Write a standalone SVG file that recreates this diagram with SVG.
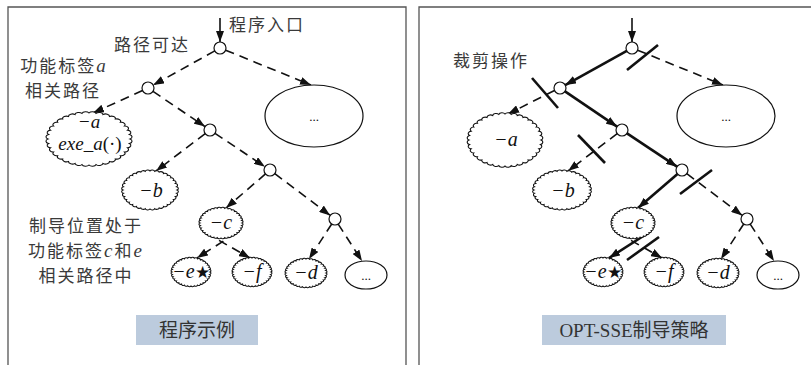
<svg xmlns="http://www.w3.org/2000/svg" xmlns:xlink="http://www.w3.org/1999/xlink" width="811" height="365" viewBox="0 0 811 365">
  <style>
    .frame{fill:none;stroke:#555;stroke-width:1.3}
    .lbl{font-family:"Noto Sans CJK SC","Liberation Serif",sans-serif;font-size:17px;letter-spacing:2px;fill:#3a3a3a}
    .it{font-family:"Liberation Serif",serif;font-style:italic;font-size:19px}
    .up{font-family:"Liberation Serif",serif;font-style:normal}
    .m{font-family:"Liberation Serif",serif;font-style:italic;font-size:20px;fill:#111;text-anchor:middle}
    .m2{font-size:19px}
    .dots{font-family:"Liberation Serif",serif;font-size:13px;fill:#111;text-anchor:middle}
    .cap{font-family:"Liberation Serif","Noto Sans CJK SC",serif;font-size:19px;fill:#333;text-anchor:middle}
    .capbox{fill:#bccbdd}
    .d{fill:none;stroke:#111;stroke-width:1.6;stroke-dasharray:9 6;marker-end:url(#ah)}
    .s{fill:none;stroke:#111;stroke-width:2.6;marker-end:url(#ah)}
    .in{fill:none;stroke:#111;stroke-width:1.6;marker-end:url(#ah)}
    .cut{stroke:#111;stroke-width:2.6;stroke-linecap:butt}
    .nd{fill:#fff;stroke:#111;stroke-width:1.2}
    .cl{fill:#fff;stroke:#111;stroke-width:1.1;vector-effect:non-scaling-stroke}
  </style>
  <defs>
    <marker id="ah" markerWidth="11" markerHeight="8" refX="11" refY="4" orient="auto" markerUnits="userSpaceOnUse">
      <path d="M0,0 L11,4 L0,8 Z" fill="#111"/>
    </marker>
    <!-- unit cloud outline: 36 small outward bumps round a unit circle -->
    <path id="cloud" class="cl" d="M1,0 A.095,.095 0 0 1 .9848,.1736 A.095,.095 0 0 1 .9397,.342 A.095,.095 0 0 1 .866,.5 A.095,.095 0 0 1 .766,.6428 A.095,.095 0 0 1 .6428,.766 A.095,.095 0 0 1 .5,.866 A.095,.095 0 0 1 .342,.9397 A.095,.095 0 0 1 .1736,.9848 A.095,.095 0 0 1 0,1 A.095,.095 0 0 1 -.1736,.9848 A.095,.095 0 0 1 -.342,.9397 A.095,.095 0 0 1 -.5,.866 A.095,.095 0 0 1 -.6428,.766 A.095,.095 0 0 1 -.766,.6428 A.095,.095 0 0 1 -.866,.5 A.095,.095 0 0 1 -.9397,.342 A.095,.095 0 0 1 -.9848,.1736 A.095,.095 0 0 1 -1,0 A.095,.095 0 0 1 -.9848,-.1736 A.095,.095 0 0 1 -.9397,-.342 A.095,.095 0 0 1 -.866,-.5 A.095,.095 0 0 1 -.766,-.6428 A.095,.095 0 0 1 -.6428,-.766 A.095,.095 0 0 1 -.5,-.866 A.095,.095 0 0 1 -.342,-.9397 A.095,.095 0 0 1 -.1736,-.9848 A.095,.095 0 0 1 0,-1 A.095,.095 0 0 1 .1736,-.9848 A.095,.095 0 0 1 .342,-.9397 A.095,.095 0 0 1 .5,-.866 A.095,.095 0 0 1 .6428,-.766 A.095,.095 0 0 1 .766,-.6428 A.095,.095 0 0 1 .866,-.5 A.095,.095 0 0 1 .9397,-.342 A.095,.095 0 0 1 .9848,-.1736 A.095,.095 0 0 1 1,0 Z"/>
  </defs>

  <rect width="811" height="365" fill="#fff"/>

  <!-- panel frames (open at the bottom) -->
  <g id="frames">
    <path class="frame" d="M8,366 V7 H406 V366"/>
    <path class="frame" d="M419,366 V7 H812"/>
  </g>

  <!-- free labels -->
  <g id="labels">
    <text class="lbl" x="229" y="31">程序入口</text>
    <text class="lbl" x="114" y="51">路径可达</text>
    <text class="lbl" x="64" y="72" text-anchor="middle">功能标签<tspan class="it">a</tspan></text>
    <text class="lbl" x="63" y="97" text-anchor="middle">相关路径</text>
    <text class="lbl" x="86" y="232" text-anchor="middle">制导位置处于</text>
    <text class="lbl" x="86" y="257" text-anchor="middle">功能标签<tspan class="it">c</tspan>和<tspan class="it">e</tspan></text>
    <text class="lbl" x="86" y="282" text-anchor="middle">相关路径中</text>
    <text class="lbl" x="453" y="67">裁剪操作</text>
  </g>

  <!-- connectors -->
  <g id="connectors">
    <!-- left panel: all reachable paths -->
    <line class="in" x1="220" y1="18" x2="220" y2="42"/>
    <line class="d" x1="214.8" y1="50.9" x2="153.2" y2="85.1"/>
    <line class="d" x1="225.6" y1="50.2" x2="311" y2="85"/>
    <line class="d" x1="142.5" y1="90.5" x2="93" y2="113"/>
    <line class="d" x1="153" y1="91.4" x2="205" y2="126.6"/>
    <line class="d" x1="205.2" y1="133.6" x2="156" y2="171"/>
    <line class="d" x1="215" y1="133.3" x2="265" y2="166.7"/>
    <line class="d" x1="265.5" y1="173.9" x2="226" y2="208"/>
    <line class="d" x1="274.8" y1="173.6" x2="330.2" y2="215.4"/>
    <line class="d" x1="236" y1="233" x2="197" y2="258"/>
    <line class="d" x1="206" y1="233" x2="250" y2="258"/>
    <line class="d" x1="331.7" y1="224" x2="309" y2="259"/>
    <line class="d" x1="338.2" y1="224.1" x2="362" y2="261"/>

    <!-- right panel: kept path solid, pruned branches dashed and cut -->
    <line class="in" x1="632" y1="18" x2="632" y2="42"/>
    <line class="s" x1="626.8" y1="50.9" x2="565.2" y2="85.1"/>
    <line class="d" x1="637.6" y1="50.2" x2="723" y2="85"/>
    <line class="d" x1="554.5" y1="90.5" x2="508" y2="114"/>
    <line class="s" x1="565" y1="91.4" x2="617" y2="126.6"/>
    <line class="d" x1="617.2" y1="133.6" x2="568" y2="171"/>
    <line class="s" x1="627" y1="133.3" x2="677" y2="166.7"/>
    <line class="s" x1="677.5" y1="173.9" x2="638" y2="208"/>
    <line class="d" x1="686.8" y1="173.6" x2="742.2" y2="215.4"/>
    <line class="s" x1="648" y1="233" x2="609" y2="258"/>
    <line class="d" x1="618" y1="233" x2="662" y2="258"/>
    <line class="d" x1="743.7" y1="224" x2="721" y2="259"/>
    <line class="d" x1="750.2" y1="224.1" x2="774" y2="261"/>

    <!-- cut marks -->
    <line class="cut" x1="627" y1="70" x2="658" y2="45"/>
    <line class="cut" x1="532" y1="78" x2="558" y2="108"/>
    <line class="cut" x1="578" y1="135" x2="605" y2="163"/>
    <line class="cut" x1="680" y1="194" x2="712" y2="170"/>
    <line class="cut" x1="627" y1="260" x2="659" y2="237"/>
  </g>

  <!-- left panel nodes -->
  <g id="L-root"><circle class="nd" cx="220" cy="48" r="6"/></g>
  <g id="L-n1"><circle class="nd" cx="148" cy="88" r="6"/></g>
  <g id="L-n2"><circle class="nd" cx="210" cy="130" r="6"/></g>
  <g id="L-n3"><circle class="nd" cx="270" cy="170" r="6"/></g>
  <g id="L-n4"><circle class="nd" cx="335" cy="219" r="6"/></g>
  <g id="L-rest"><ellipse class="nd" cx="314" cy="116" rx="49" ry="31"/><text class="dots" x="314" y="121">...</text></g>
  <g id="L-a"><use xlink:href="#cloud" href="#cloud" transform="translate(89,139) scale(41,26)"/>
    <text class="m m2" x="89" y="128">−a</text>
    <text class="m m2" x="90" y="150">exe_a<tspan class="up">(·)</tspan></text></g>
  <g id="L-b"><use xlink:href="#cloud" href="#cloud" transform="translate(150,190) scale(27,19)"/><text class="m" x="151" y="197">−b</text></g>
  <g id="L-c"><use xlink:href="#cloud" href="#cloud" transform="translate(221,223) scale(21,15)"/><text class="m" x="221" y="229">−c</text></g>
  <g id="L-e"><use xlink:href="#cloud" href="#cloud" transform="translate(191,272) scale(19,14)"/><text class="m" x="191" y="278">−e<tspan class="up" font-size="17">★</tspan></text></g>
  <g id="L-f"><use xlink:href="#cloud" href="#cloud" transform="translate(252,272) scale(19,14)"/><text class="m" x="252" y="278">−f</text></g>
  <g id="L-d"><use xlink:href="#cloud" href="#cloud" transform="translate(306,273) scale(20,14)"/><text class="m" x="306" y="279">−d</text></g>
  <g id="L-more"><ellipse class="nd" cx="366" cy="275" rx="21" ry="14"/><text class="dots" x="366" y="280">...</text></g>

  <!-- right panel nodes -->
  <g id="R-root"><circle class="nd" cx="632" cy="48" r="6"/></g>
  <g id="R-n1"><circle class="nd" cx="560" cy="88" r="6"/></g>
  <g id="R-n2"><circle class="nd" cx="622" cy="130" r="6"/></g>
  <g id="R-n3"><circle class="nd" cx="682" cy="170" r="6"/></g>
  <g id="R-n4"><circle class="nd" cx="747" cy="219" r="6"/></g>
  <g id="R-rest"><ellipse class="nd" cx="726" cy="116" rx="49" ry="31"/><text class="dots" x="726" y="121">...</text></g>
  <g id="R-a"><use xlink:href="#cloud" href="#cloud" transform="translate(505,140) scale(36,26)"/><text class="m" x="506" y="146">−a</text></g>
  <g id="R-b"><use xlink:href="#cloud" href="#cloud" transform="translate(562,190) scale(28,19)"/><text class="m" x="563" y="197">−b</text></g>
  <g id="R-c"><use xlink:href="#cloud" href="#cloud" transform="translate(633,223) scale(21,15)"/><text class="m" x="633" y="229">−c</text></g>
  <g id="R-e"><use xlink:href="#cloud" href="#cloud" transform="translate(603,272) scale(19,14)"/><text class="m" x="603" y="278">−e<tspan class="up" font-size="17">★</tspan></text></g>
  <g id="R-f"><use xlink:href="#cloud" href="#cloud" transform="translate(664,272) scale(19,14)"/><text class="m" x="664" y="278">−f</text></g>
  <g id="R-d"><use xlink:href="#cloud" href="#cloud" transform="translate(718,273) scale(20,14)"/><text class="m" x="718" y="279">−d</text></g>
  <g id="R-more"><ellipse class="nd" cx="778" cy="275" rx="21" ry="14"/><text class="dots" x="778" y="280">...</text></g>

  <!-- captions -->
  <g id="cap-left"><rect class="capbox" x="136" y="315" width="122" height="30"/><text class="cap" x="197" y="337" font-family="Noto Sans CJK SC, sans-serif">程序示例</text></g>
  <g id="cap-right"><rect class="capbox" x="542" y="315" width="184" height="30"/><text class="cap" x="634" y="337">OPT-SSE制导策略</text></g>
</svg>
